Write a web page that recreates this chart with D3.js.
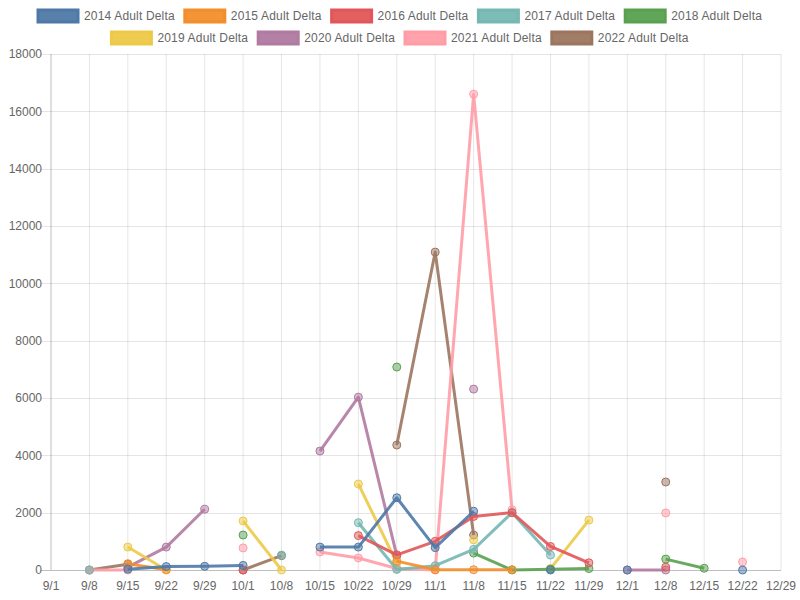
<!DOCTYPE html>
<html><head><meta charset="utf-8">
<script src="https://cdn.jsdelivr.net/npm/d3@7"></script>
<style>body{margin:0;background:#fff}text{font-family:"Liberation Sans",Arial,Helvetica,sans-serif}</style>
</head><body><svg id="c" width="800" height="600"></svg>
<script>
const categories = ["9/1","9/8","9/15","9/22","9/29","10/1","10/8","10/15","10/22","10/29","11/1","11/8","11/15","11/22","11/29","12/1","12/8","12/15","12/22","12/29"];
const seriesNames = ["2014 Adult Delta","2015 Adult Delta","2016 Adult Delta","2017 Adult Delta","2018 Adult Delta","2019 Adult Delta","2020 Adult Delta","2021 Adult Delta","2022 Adult Delta"];
const seriesColors = ["#4e79a7","#f28e2b","#e15759","#76b7b2","#59a14f","#edc948","#b07aa1","#ff9da7","#9c755f"];
const n = null;
const v2014 = [n,n,30,120,130,160,n,800,800,2520,780,2050,n,0,n,0,n,n,0,n];
const v2015 = [n,n,220,10,n,n,n,n,n,310,10,10,10,n,n,n,n,n,n,n];
const v2016 = [n,n,n,n,n,0,n,n,1200,530,1000,1870,2000,820,250,n,100,n,n,n];
const v2017 = [n,0,n,n,n,n,520,n,1650,20,150,720,2000,520,n,n,n,n,n,n];
const v2018 = [n,n,n,n,n,1220,n,n,n,7080,n,590,0,30,50,n,380,60,n,n];
const v2019 = [n,n,800,0,n,1710,0,n,3000,250,n,1050,n,50,1740,n,n,n,n,n];
const v2020 = [n,n,100,800,2120,n,n,4150,6030,500,n,6310,n,n,n,0,0,n,n,n];
const v2021 = [n,0,0,n,n,770,n,630,420,50,0,16600,2100,n,n,n,1990,n,280,n];
const v2022 = [n,0,200,n,n,0,500,n,n,4360,11090,1220,n,n,n,n,3070,n,n,n];
const seriesValues = [v2014,v2015,v2016,v2017,v2018,v2019,v2020,v2021,v2022];
const yTicks = [0,2000,4000,6000,8000,10000,12000,14000,16000,18000];

const svg = d3.select("#c");
const L = 51, R = 781, T = 54, B = 570;
const x = d3.scalePoint().domain(categories).range([L, R]);
const y = d3.scaleLinear().domain([0, 18000]).range([B, T]);

// grid
const g = svg.append("g");
categories.forEach((c, i) => {
  g.append("line").attr("x1", x(c)).attr("x2", x(c)).attr("y1", T).attr("y2", B)
    .attr("stroke", i === 0 ? "rgba(0,0,0,0.25)" : "rgba(0,0,0,0.1)").attr("stroke-width", 1);
});
yTicks.forEach(t => {
  g.append("line").attr("x1", L - 10).attr("x2", R).attr("y1", Math.round(y(t)) + 0.5).attr("y2", Math.round(y(t)) + 0.5)
    .attr("stroke", t === 0 ? "rgba(0,0,0,0.25)" : "rgba(0,0,0,0.1)").attr("stroke-width", 1);
});
// y labels
yTicks.forEach(t => {
  svg.append("text").attr("x", L - 9).attr("y", y(t)).attr("dy", "0.35em").attr("text-anchor", "end")
    .attr("font-size", 12).attr("fill", "#666").text(t);
});
// x labels
categories.forEach(c => {
  svg.append("text").attr("x", x(c)).attr("y", B + 20).attr("text-anchor", "middle")
    .attr("font-size", 12).attr("fill", "#666").text(c);
});

// series (draw last first so first on top)
const line = d3.line().defined(d => d.v !== null).x(d => x(d.c)).y(d => y(d.v));
for (let s = seriesValues.length - 1; s >= 0; s--) {
  const data = categories.map((c, i) => ({c, v: seriesValues[s][i]}));
  const col = seriesColors[s];
  const sg = svg.append("g");
  sg.append("path").attr("d", line(data)).attr("fill", "none").attr("stroke", col)
    .attr("stroke-width", 3).attr("stroke-opacity", 0.9).attr("stroke-linejoin", "round");
  sg.selectAll("circle").data(data.filter(d => d.v !== null)).join("circle")
    .attr("cx", d => x(d.c)).attr("cy", d => y(d.v)).attr("r", 4)
    .attr("fill", col).attr("fill-opacity", 0.5).attr("stroke", col).attr("stroke-width", 1);
}

// legend (Chart.js style)
const boxW = 40, fs = 12, pad = 10, ls = 0.17;
const tmp = svg.append("text").attr("font-size", fs).attr("letter-spacing", ls);
const widths = seriesNames.map(nm => { tmp.text(nm); return tmp.node().getComputedTextLength(); });
tmp.remove();
const lines = [[]]; const lineW = [0];
seriesNames.forEach((nm, i) => {
  const w = boxW + fs / 2 + widths[i];
  if (lineW[lineW.length - 1] + w + pad > 800) { lines.push([]); lineW.push(0); }
  lines[lines.length - 1].push(i);
  lineW[lineW.length - 1] += w + pad;
});
lines.forEach((items, li) => {
  let cx = (800 - lineW[li] + pad) / 2;
  const top = 10 + li * 22;
  items.forEach(i => {
    svg.append("rect").attr("x", cx).attr("y", top).attr("width", boxW).attr("height", fs)
      .attr("fill", seriesColors[i]).attr("fill-opacity", 0.95).attr("stroke", seriesColors[i]).attr("stroke-width", 3);
    svg.append("text").attr("x", cx + boxW + fs / 2).attr("y", top + fs / 2).attr("dy", "0.35em")
      .attr("font-size", fs).attr("letter-spacing", ls).attr("fill", "#666").text(seriesNames[i]);
    cx += boxW + fs / 2 + widths[i] + pad;
  });
});
</script></body></html>
